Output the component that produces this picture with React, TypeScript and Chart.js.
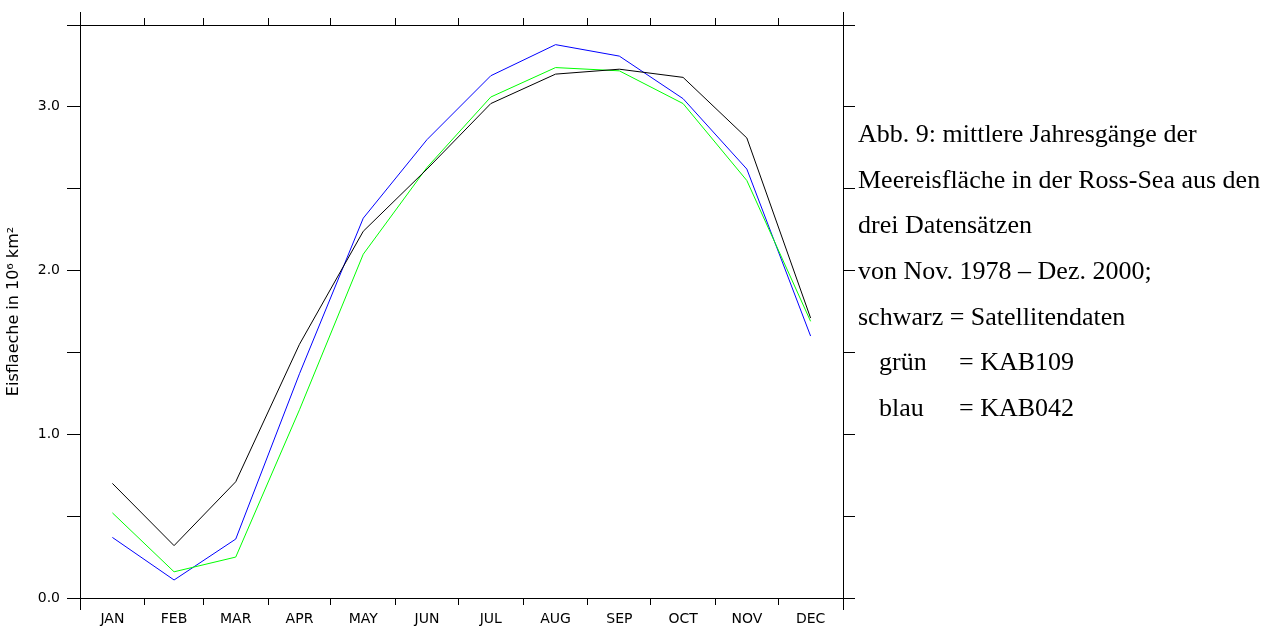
import React, { useEffect, useRef } from "react";
import { Chart, registerables } from "chart.js";

Chart.register(...registerables);

const MONTHS = ["JAN", "FEB", "MAR", "APR", "MAY", "JUN", "JUL", "AUG", "SEP", "OCT", "NOV", "DEC"];
const DAYS_IN_MONTH = [31, 28, 31, 30, 31, 30, 31, 31, 30, 31, 30, 31];

// schwarz = Satellitendaten
const SATELLITE = [0.70, 0.32, 0.71, 1.55, 2.24, 2.62, 3.02, 3.20, 3.23, 3.18, 2.81, 1.71];
// grün = KAB109
const KAB109 = [0.52, 0.16, 0.25, 1.15, 2.10, 2.63, 3.06, 3.24, 3.22, 3.02, 2.55, 1.69];
// blau = KAB042
const KAB042 = [0.37, 0.11, 0.36, 1.37, 2.32, 2.80, 3.19, 3.38, 3.31, 3.05, 2.62, 1.60];

const Y_MIN = 0;
const Y_MAX = 3.5;
const Y_STEP = 0.5;
const Y_TITLE = "Eisflaeche in 10\u2076 km\u00B2";

const CAPTION_LINES = [
  "Abb. 9: mittlere Jahresgänge der",
  "Meereisfläche in der Ross-Sea aus den",
  "drei Datensätzen",
  "von Nov. 1978 – Dez. 2000;",
  "schwarz = Satellitendaten",
];
const CAPTION_KEYS = [
  ["grün", "= KAB109"],
  ["blau", "= KAB042"],
];

// month boundaries (day of year) and month centres
const BOUNDARIES: number[] = [0];
DAYS_IN_MONTH.forEach((d, i) => BOUNDARIES.push(BOUNDARIES[i] + d));
const MIDS = DAYS_IN_MONTH.map((d, i) => BOUNDARIES[i] + d / 2);
const YEAR_DAYS = BOUNDARIES[BOUNDARIES.length - 1];

const isMid = (v: number) => MIDS.some((m) => Math.abs(m - v) < 1e-6);

const toPoints = (arr: number[]) => arr.map((y, i) => ({ x: MIDS[i], y }));

const FONT = "'DejaVu Sans', sans-serif";

const cornerPlugin = {
  id: "cornerTicks",
  afterDraw(chart: any) {
    const { ctx, chartArea } = chart;
    const { left, right, top, bottom } = chartArea;
    ctx.save();
    ctx.strokeStyle = "#000";
    ctx.lineWidth = 1;
    ctx.beginPath();
    [left, right].forEach((x: number) => {
      const px = Math.round(x) + 0.5;
      ctx.moveTo(px, top - 13);
      ctx.lineTo(px, top);
      ctx.moveTo(px, bottom);
      ctx.lineTo(px, bottom + 12);
    });
    ctx.stroke();
    ctx.restore();
  },
};

const xScaleBase = (position: "top" | "bottom", showLabels: boolean, height: number) => ({
  type: "linear" as const,
  position,
  min: 0,
  max: YEAR_DAYS,
  afterBuildTicks: (scale: any) => {
    const vals = [...BOUNDARIES, ...MIDS].sort((a, b) => a - b);
    scale.ticks = vals.map((v) => ({ value: v }));
  },
  afterFit: (scale: any) => {
    scale.height = height;
  },
  grid: {
    display: true,
    drawOnChartArea: false,
    drawTicks: true,
    tickLength: 7,
    tickColor: (ctx: any) => (ctx.tick && isMid(ctx.tick.value) ? "rgba(0,0,0,0)" : "#000"),
  },
  border: { display: true, color: "#000", width: 1 },
  ticks: {
    display: showLabels,
    autoSkip: false,
    maxRotation: 0,
    minRotation: 0,
    padding: 6,
    color: "#000",
    font: { family: FONT, size: 14 },
    callback: (v: any) => {
      const i = MIDS.findIndex((m) => Math.abs(m - v) < 1e-6);
      return i >= 0 ? MONTHS[i] : "";
    },
  },
});

export default function App() {
  const canvasRef = useRef<HTMLCanvasElement | null>(null);

  useEffect(() => {
    if (!canvasRef.current) return;
    const chart = new Chart(canvasRef.current, {
      type: "line",
      data: {
        datasets: [
          {
            label: "Satellitendaten",
            data: toPoints(SATELLITE),
            borderColor: "#000000",
            borderWidth: 1,
            pointRadius: 0,
            tension: 0,
          },
          {
            label: "KAB109",
            data: toPoints(KAB109),
            borderColor: "#00ff00",
            borderWidth: 1,
            pointRadius: 0,
            tension: 0,
          },
          {
            label: "KAB042",
            data: toPoints(KAB042),
            borderColor: "#0000ff",
            borderWidth: 1,
            pointRadius: 0,
            tension: 0,
          },
        ],
      },
      options: {
        responsive: false,
        maintainAspectRatio: false,
        devicePixelRatio: 1,
        animation: false,
        layout: { padding: 0 },
        plugins: {
          legend: { display: false },
          tooltip: { enabled: false },
          title: { display: false },
        },
        scales: {
          x: xScaleBase("bottom", true, 28),
          x2: xScaleBase("top", false, 25),
          y: {
            type: "linear",
            position: "left",
            min: Y_MIN,
            max: Y_MAX,
            afterFit: (scale: any) => {
              scale.width = 80;
            },
            grid: {
              display: true,
              drawOnChartArea: false,
              drawTicks: true,
              tickLength: 13,
              tickColor: "#000",
            },
            border: { display: true, color: "#000", width: 1 },
            ticks: {
              stepSize: Y_STEP,
              padding: 7,
              color: "#000",
              font: { family: FONT, size: 14 },
              callback: (v: any) => (Math.abs(v - Math.round(v)) < 1e-6 ? Number(v).toFixed(1) : ""),
            },
            title: {
              display: true,
              text: Y_TITLE,
              color: "#000",
              font: { family: FONT, size: 16 },
              padding: { top: 4, bottom: 0 },
            },
          },
          y2: {
            type: "linear",
            position: "right",
            min: Y_MIN,
            max: Y_MAX,
            afterFit: (scale: any) => {
              scale.width = 430;
            },
            grid: {
              display: true,
              drawOnChartArea: false,
              drawTicks: true,
              tickLength: 12,
              tickColor: "#000",
            },
            border: { display: true, color: "#000", width: 1 },
            ticks: { stepSize: Y_STEP, display: false },
          },
        },
      },
      plugins: [cornerPlugin],
    });
    return () => chart.destroy();
  }, []);

  const lineStyle: React.CSSProperties = {
    height: 45.7,
    lineHeight: "45.7px",
    whiteSpace: "nowrap",
  };

  return (
    <div style={{ position: "absolute", left: 0, top: 0, width: 1273, height: 626, background: "#fff" }}>
      <canvas ref={canvasRef} width={1273} height={626} style={{ display: "block", width: 1273, height: 626 }} />
      <div
        style={{
          position: "absolute",
          left: 858,
          top: 111,
          fontFamily: "'Liberation Serif', 'Times New Roman', serif",
          fontSize: 26,
          color: "#000",
        }}
      >
        {CAPTION_LINES.map((t, i) => (
          <div key={i} style={lineStyle}>
            {t}
          </div>
        ))}
        {CAPTION_KEYS.map(([k, v], i) => (
          <div key={"k" + i} style={lineStyle}>
            <span style={{ display: "inline-block", marginLeft: 21, width: 80 }}>{k}</span>
            <span>{v}</span>
          </div>
        ))}
      </div>
    </div>
  );
}
